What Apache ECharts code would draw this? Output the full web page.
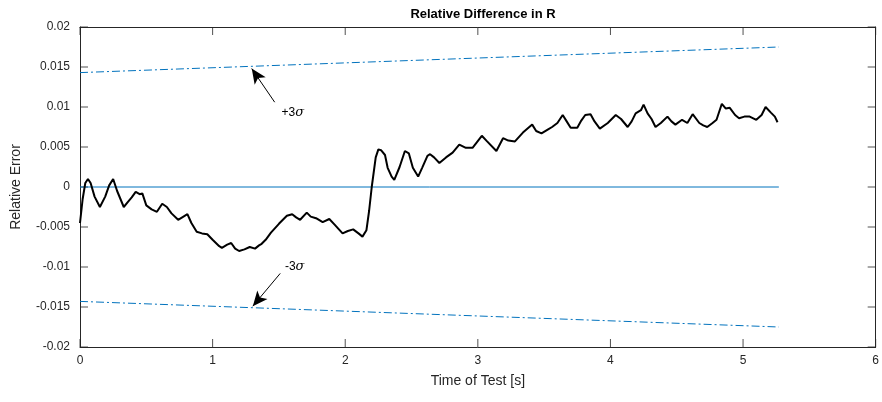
<!DOCTYPE html>
<html>
<head>
<meta charset="utf-8">
<script src="https://cdn.jsdelivr.net/npm/echarts@6/dist/echarts.min.js"></script>
<style>
  html, body { margin: 0; padding: 0; background: #fff; }
  #chart { width: 882px; height: 402px; }
</style>
</head>
<body>
<div id="chart"></div>
<script>
// time of test [s]
var times = [0.00,0.02,0.04,0.06,0.08,0.11,0.15,0.19,0.22,0.25,0.28,0.33,0.36,0.39,0.42,0.45,0.47,0.50,0.54,0.58,
  0.62,0.655,0.69,0.74,0.78,0.81,0.84,0.88,0.92,0.96,1.00,1.05,1.07,1.11,1.14,1.17,1.20,1.24,1.28,1.32,
  1.35,1.37,1.40,1.44,1.50,1.56,1.60,1.63,1.66,1.71,1.74,1.78,1.83,1.88,1.92,1.98,2.02,2.06,2.10,2.13,
  2.16,2.18,2.20,2.23,2.25,2.27,2.30,2.32,2.35,2.37,2.41,2.45,2.48,2.51,2.55,2.58,2.62,2.64,2.67,2.71,
  2.76,2.81,2.86,2.91,2.96,3.03,3.07,3.14,3.19,3.23,3.28,3.34,3.41,3.44,3.48,3.53,3.56,3.60,3.64,3.67,
  3.70,3.75,3.78,3.81,3.85,3.88,3.92,3.98,4.04,4.08,4.13,4.16,4.19,4.23,4.25,4.28,4.31,4.34,4.38,4.43,
  4.46,4.49,4.54,4.58,4.62,4.67,4.70,4.73,4.77,4.80,4.84,4.87,4.90,4.94,4.97,5.01,5.05,5.10,5.14,5.17,
  5.21,5.24,5.26];
// relative error
var relErr = [-0.0045,-0.0015,0.0005,0.0010,0.0005,-0.0012,-0.0025,-0.0012,0.0002,0.0010,-0.0005,-0.0025,-0.0019,-0.0013,-0.0006,-0.0009,-0.0008,-0.0023,-0.0028,-0.0031,
  -0.0021,-0.0025,-0.0033,-0.0041,-0.0037,-0.0034,-0.0045,-0.0056,-0.0058,-0.0059,-0.0066,-0.0074,-0.0076,-0.0072,-0.0070,-0.0077,-0.0080,-0.0078,-0.0075,-0.0077,
  -0.0073,-0.0071,-0.0066,-0.0057,-0.0046,-0.0036,-0.0034,-0.0038,-0.0041,-0.0032,-0.0037,-0.0039,-0.0044,-0.0040,-0.0047,-0.0058,-0.0055,-0.0053,-0.0058,-0.0062,
  -0.0054,-0.0030,0.0000,0.0037,0.0047,0.0046,0.0040,0.0024,0.0013,0.0009,0.0025,0.0045,0.0042,0.0024,0.0013,0.0024,0.0039,0.0041,0.0037,0.0030,
  0.0037,0.0043,0.0053,0.0049,0.0049,0.0064,0.0057,0.0045,0.0061,0.0058,0.0057,0.0068,0.0078,0.0070,0.0067,0.0072,0.0075,0.0080,0.0090,0.0082,
  0.0074,0.0074,0.0083,0.0090,0.0091,0.0082,0.0073,0.0080,0.0090,0.0085,0.0075,0.0082,0.0092,0.0096,0.0103,0.0092,0.0085,0.0075,0.0080,0.0088,
  0.0082,0.0078,0.0084,0.0080,0.0091,0.0080,0.0077,0.0075,0.0080,0.0084,0.0104,0.0098,0.0099,0.0090,0.0086,0.0088,0.0088,0.0084,0.0090,0.0100,
  0.0093,0.0088,0.0081];
// +-3 sigma bounds (start / end)
var sigmaT = [0, 5.27];
var sigmaUp = [0.0143, 0.0175];
var sigmaDn = [-0.0143, -0.0175];
var zeroT = [0, 5.27];
var zeroV = [0, 0];
// tick values
var xTicks = [0, 1, 2, 3, 4, 5, 6];
var yTicks = [-0.02, -0.015, -0.01, -0.005, 0, 0.005, 0.01, 0.015, 0.02];

function pairs(xs, ys) {
    return xs.map(function (x, i) { return [x, ys[i]]; });
}

var blue = '#0072BD';
var axisCol = '#262626';
var font = 'Liberation Sans, Arial, Helvetica, sans-serif';

// inner tick marks on all four sides of the box
function tickSeries(data, size, offset) {
    return {
        type: 'scatter', data: data, symbol: 'rect', symbolSize: size, symbolOffset: offset,
        itemStyle: { color: axisCol }, silent: true, clip: false, z: 1
    };
}

var chart = echarts.init(document.getElementById('chart'));
var option = {
    animation: false,
    title: {
        text: 'Relative Difference in R',
        left: 478, top: 3, textAlign: 'center',
        textStyle: { fontSize: 13, fontWeight: 'bold', color: '#000', fontFamily: font }
    },
    grid: { left: 80, right: 5, top: 27, bottom: 55 },
    xAxis: [{
        type: 'value', min: 0, max: 6, interval: 1,
        name: 'Time of Test [s]', nameLocation: 'middle', nameGap: 27,
        nameTextStyle: { fontSize: 14, color: axisCol, fontFamily: font },
        axisLine: { show: true, onZero: false, lineStyle: { color: axisCol } },
        axisTick: { show: false },
        axisLabel: { fontSize: 12, color: axisCol, fontFamily: font, margin: 8 },
        splitLine: { show: false }
    }, {
        type: 'value', min: 0, max: 6, interval: 1, position: 'top',
        axisLine: { show: true, onZero: false, lineStyle: { color: axisCol } },
        axisTick: { show: false },
        axisLabel: { show: false }, splitLine: { show: false }
    }],
    yAxis: [{
        type: 'value', min: -0.02, max: 0.02, interval: 0.005,
        name: 'Relative Error', nameLocation: 'middle', nameGap: 57,
        nameTextStyle: { fontSize: 14, color: axisCol, fontFamily: font },
        axisLine: { show: true, onZero: false, lineStyle: { color: axisCol } },
        axisTick: { show: false },
        axisLabel: { fontSize: 12, color: axisCol, fontFamily: font, margin: 10 },
        splitLine: { show: false }
    }, {
        type: 'value', min: -0.02, max: 0.02, interval: 0.005, position: 'right',
        axisLine: { show: true, onZero: false, lineStyle: { color: axisCol } },
        axisTick: { show: false },
        axisLabel: { show: false }, splitLine: { show: false }
    }],
    series: [
        tickSeries(xTicks.map(function (t) { return [t, -0.02]; }), [1, 8], [0, -4]),
        tickSeries(xTicks.map(function (t) { return [t, 0.02]; }), [1, 8], [0, 4]),
        tickSeries(yTicks.map(function (v) { return [0, v]; }), [8, 1], [4, 0]),
        tickSeries(yTicks.map(function (v) { return [6, v]; }), [8, 1], [-4, 0]),
        {
            type: 'line', data: pairs(zeroT, zeroV), showSymbol: false,
            lineStyle: { color: blue, width: 1 }
        },
        {
            type: 'line', data: pairs(sigmaT, sigmaUp), showSymbol: false,
            lineStyle: { color: blue, width: 1, type: [8, 3, 2, 3] }
        },
        {
            type: 'line', data: pairs(sigmaT, sigmaDn), showSymbol: false,
            lineStyle: { color: blue, width: 1, type: [8, 3, 2, 3] }
        },
        {
            type: 'line', data: pairs(times, relErr), showSymbol: false,
            lineStyle: { color: '#000', width: 2 },
            markLine: {
                silent: true, symbol: ['none', 'arrow'], symbolSize: [10, 15],
                lineStyle: { color: '#000', width: 1, type: 'solid' },
                label: { show: false },
                data: [
                    [{ coord: [1.468, 0.0106] }, { coord: [1.295, 0.0148] }],
                    [{ coord: [1.51, -0.0108] }, { coord: [1.303, -0.0149] }]
                ]
            },
            markPoint: {
                silent: true, symbol: 'circle', symbolSize: 0,
                label: {
                    show: true, color: '#000', fontSize: 12, fontFamily: font,
                    position: 'right', distance: 0,
                    formatter: function (p) { return p.name.replace('σ', '{i|σ}'); },
                    rich: { i: { fontStyle: 'italic', fontSize: 13, fontFamily: 'DejaVu Serif, serif' } }
                },
                data: [
                    { name: '+3σ', coord: [1.52, 0.0093] },
                    { name: '-3σ', coord: [1.545, -0.0100] }
                ]
            }
        }
    ]
};
chart.setOption(option);
</script>
</body>
</html>
